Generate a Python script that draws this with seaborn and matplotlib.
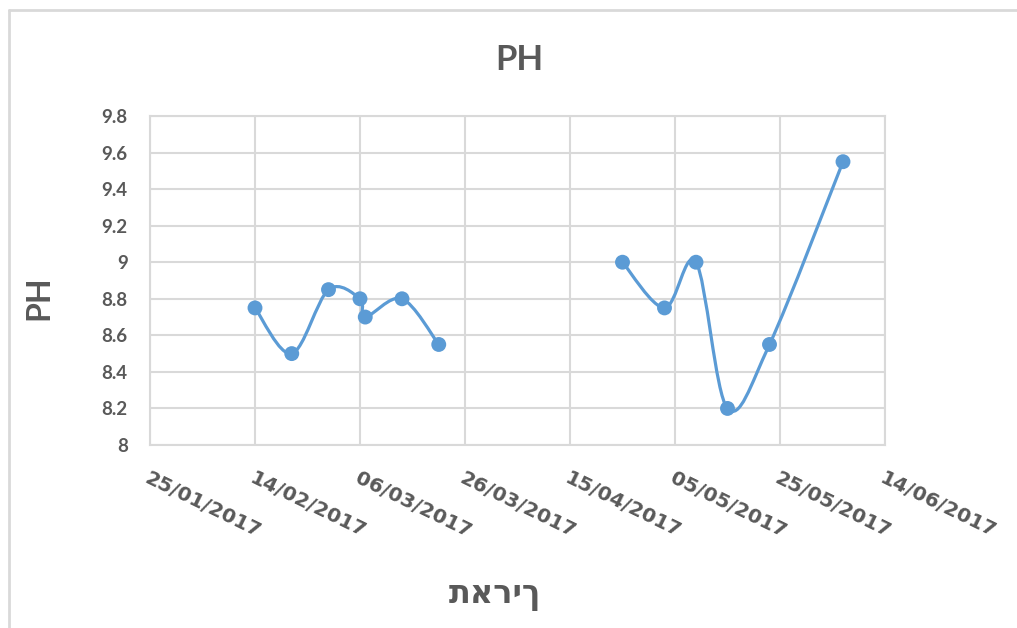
import numpy as np
import pandas as pd
import matplotlib
matplotlib.use('Agg')
import matplotlib.pyplot as plt
import matplotlib.dates as mdates
from matplotlib.path import Path
from matplotlib.patches import PathPatch
from matplotlib.lines import Line2D
import seaborn as sns

# PH readings, two separate measurement periods
dates_1 = ['2017-02-14', '2017-02-21', '2017-02-28', '2017-03-06', '2017-03-07',
           '2017-03-14', '2017-03-21']
ph_1 = [8.75, 8.5, 8.85, 8.8, 8.7, 8.8, 8.55]

dates_2 = ['2017-04-25', '2017-05-03', '2017-05-09', '2017-05-15', '2017-05-23',
           '2017-06-06']
ph_2 = [9.0, 8.75, 9.0, 8.2, 8.55, 9.55]

tick_labels = ['25/01/2017', '14/02/2017', '06/03/2017', '26/03/2017',
               '15/04/2017', '05/05/2017', '25/05/2017', '14/06/2017']
y_ticks = [8, 8.2, 8.4, 8.6, 8.8, 9, 9.2, 9.4, 9.6, 9.8]

df = pd.concat([
    pd.DataFrame({'date': pd.to_datetime(dates_1), 'ph': ph_1, 'segment': 1}),
    pd.DataFrame({'date': pd.to_datetime(dates_2), 'ph': ph_2, 'segment': 2}),
])

BLUE = '#5B9BD5'
GRAY = '#595959'
GRID = '#D9D9D9'

sns.set_theme(style='whitegrid')
plt.rcParams['font.family'] = ['Lato', 'DejaVu Sans']

fig = plt.figure(figsize=(10.17, 6.28), dpi=100)
ax = fig.add_axes([150 / 1017, 1 - 445 / 628, 735 / 1017, 329 / 628])


def smooth_path(xs, ys):
    # Excel style smoothed line: cubic bezier through the points
    pts = np.column_stack([xs, ys])
    n = len(pts)
    verts = [pts[0]]
    codes = [Path.MOVETO]
    for i in range(n - 1):
        p0 = pts[max(i - 1, 0)]
        p1 = pts[i]
        p2 = pts[i + 1]
        p3 = pts[min(i + 2, n - 1)]
        verts += [p1 + (p2 - p0) / 6, p2 - (p3 - p1) / 6, p2]
        codes += [Path.CURVE4] * 3
    return Path(verts, codes)


for seg, grp in df.groupby('segment'):
    path = smooth_path(mdates.date2num(grp['date']), grp['ph'].to_numpy())
    ax.add_patch(PathPatch(path, facecolor='none', edgecolor=BLUE,
                           linewidth=2.3, zorder=3, capstyle='round'))

sns.scatterplot(data=df, x='date', y='ph', ax=ax, color=BLUE, s=115,
                edgecolor='none', zorder=4, legend=False)

tick_pos = pd.to_datetime(tick_labels, format='%d/%m/%Y')
ax.set_xlim(tick_pos[0], tick_pos[-1])
ax.set_xticks(tick_pos)
ax.set_xticklabels(tick_labels, rotation=-26, ha='left', va='top',
                   rotation_mode='anchor', family='DejaVu Sans')
ax.set_ylim(8, 9.8)
ax.set_yticks(y_ticks)
ax.set_yticklabels([f'{v:g}' for v in y_ticks])

ax.tick_params(axis='x', length=0, pad=17, labelsize=14.5, labelcolor=GRAY)
ax.tick_params(axis='y', length=0, pad=16, labelsize=13.5, labelcolor=GRAY)
for lab in ax.get_xticklabels() + ax.get_yticklabels():
    lab.set_fontweight('bold')

ax.grid(True, color=GRID, linewidth=1.5)
for sp in ax.spines.values():
    sp.set_color(GRID)
    sp.set_linewidth(1.5)
ax.set_xlabel('')
ax.set_ylabel('')

fig.text(519 / 1017, 1 - 60 / 628, 'PH', ha='center', va='center',
         fontsize=25, fontweight='bold', color=GRAY)
fig.text(39 / 1017, 1 - 298 / 628, 'PH', ha='center', va='center',
         rotation=90, fontsize=23, fontweight='bold', color=GRAY)
fig.text(495 / 1017, 1 - 603 / 628, 'תאריך', ha='center', va='baseline',
         fontsize=23, fontweight='bold', color=GRAY,
         family=['Open Sans', 'DejaVu Sans'])

# chart frame (left and top edges visible)
fig.add_artist(Line2D([8.5 / 1017, 8.5 / 1017], [0, 1 - 10 / 628],
                      transform=fig.transFigure, color=GRID, linewidth=2))
fig.add_artist(Line2D([8.5 / 1017, 1], [1 - 10 / 628, 1 - 10 / 628],
                      transform=fig.transFigure, color=GRID, linewidth=2))

fig.savefig('out.png', dpi=100, facecolor='white')
